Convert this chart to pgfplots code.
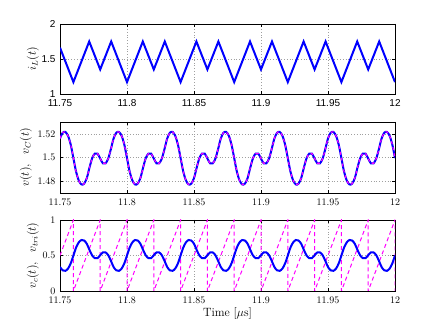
\documentclass[border=0pt]{standalone}
\usepackage{fontspec}
\setsansfont{Liberation Sans}
\usepackage{pgfplots}
\usepackage{pgfplotstable}
\pgfplotsset{compat=1.18}
\definecolor{mblue}{rgb}{0,0,1}
\definecolor{mmag}{rgb}{1,0,1}

\pgfplotstableread{
t v vc
11.750 1.5161 0.338
11.752 1.5209 0.291
11.754 1.5216 0.284
11.756 1.5183 0.316
11.758 1.5109 0.389
11.760 1.4995 0.500
11.762 1.4880 0.612
11.764 1.4806 0.685
11.766 1.4772 0.718
11.768 1.4779 0.711
11.770 1.4826 0.665
11.772 1.4914 0.579
11.774 1.4994 0.501
11.776 1.5033 0.463
11.778 1.5033 0.463
11.780 1.4991 0.504
11.782 1.4951 0.543
11.784 1.4951 0.543
11.786 1.4991 0.504
11.788 1.5072 0.425
11.790 1.5161 0.338
11.792 1.5209 0.291
11.794 1.5216 0.284
11.796 1.5183 0.316
11.798 1.5109 0.389
11.800 1.4995 0.500
11.802 1.4880 0.612
11.804 1.4806 0.685
11.806 1.4772 0.718
11.808 1.4779 0.711
11.810 1.4826 0.665
11.812 1.4914 0.579
11.814 1.4994 0.501
11.816 1.5033 0.463
11.818 1.5033 0.463
11.820 1.4991 0.504
11.822 1.4951 0.543
11.824 1.4951 0.543
11.826 1.4991 0.504
11.828 1.5072 0.425
11.830 1.5161 0.338
11.832 1.5209 0.291
11.834 1.5216 0.284
11.836 1.5183 0.316
11.838 1.5109 0.389
11.840 1.4995 0.500
11.842 1.4880 0.612
11.844 1.4806 0.685
11.846 1.4772 0.718
11.848 1.4779 0.711
11.850 1.4826 0.665
11.852 1.4914 0.579
11.854 1.4994 0.501
11.856 1.5033 0.463
11.858 1.5033 0.463
11.860 1.4991 0.504
11.862 1.4951 0.543
11.864 1.4951 0.543
11.866 1.4991 0.504
11.868 1.5072 0.425
11.870 1.5161 0.338
11.872 1.5209 0.291
11.874 1.5216 0.284
11.876 1.5183 0.316
11.878 1.5109 0.389
11.880 1.4995 0.500
11.882 1.4880 0.612
11.884 1.4806 0.685
11.886 1.4772 0.718
11.888 1.4779 0.711
11.890 1.4826 0.665
11.892 1.4914 0.579
11.894 1.4994 0.501
11.896 1.5033 0.463
11.898 1.5033 0.463
11.900 1.4991 0.504
11.902 1.4951 0.543
11.904 1.4951 0.543
11.906 1.4991 0.504
11.908 1.5072 0.425
11.910 1.5161 0.338
11.912 1.5209 0.291
11.914 1.5216 0.284
11.916 1.5183 0.316
11.918 1.5109 0.389
11.920 1.4995 0.500
11.922 1.4880 0.612
11.924 1.4806 0.685
11.926 1.4772 0.718
11.928 1.4779 0.711
11.930 1.4826 0.665
11.932 1.4914 0.579
11.934 1.4994 0.501
11.936 1.5033 0.463
11.938 1.5033 0.463
11.940 1.4991 0.504
11.942 1.4951 0.543
11.944 1.4951 0.543
11.946 1.4991 0.504
11.948 1.5072 0.425
11.950 1.5161 0.338
11.952 1.5209 0.291
11.954 1.5216 0.284
11.956 1.5183 0.316
11.958 1.5109 0.389
11.960 1.4995 0.500
11.962 1.4880 0.612
11.964 1.4806 0.685
11.966 1.4772 0.718
11.968 1.4779 0.711
11.970 1.4826 0.665
11.972 1.4914 0.579
11.974 1.4994 0.501
11.976 1.5033 0.463
11.978 1.5033 0.463
11.980 1.4991 0.504
11.982 1.4951 0.543
11.984 1.4951 0.543
11.986 1.4991 0.504
11.988 1.5072 0.425
11.990 1.5161 0.338
11.992 1.5209 0.291
11.994 1.5216 0.284
11.996 1.5183 0.316
11.998 1.5109 0.389
12.000 1.4995 0.500
}\vdata

\begin{document}
\begin{tikzpicture}
\useasboundingbox (0,0) rectangle (436pt,328pt);
\pgfplotsset{
  panel/.style={
    scale only axis, width=335pt, anchor=south west,
    xmin=11.75, xmax=12,
    xtick={11.75,11.8,11.85,11.9,11.95,12},
    xticklabels={11.75,11.8,11.85,11.9,11.95,12},
    grid=major,
    major grid style={gray!75, line width=0.4pt, dash pattern=on 0.6pt off 2.2pt},
    axis line style={line width=0.5pt},
    tick style={black, line width=0.4pt},
    major tick length=3pt,
    tick align=inside,
    xticklabel style={yshift=-2pt},
    yticklabel style={xshift=-1pt},
    label style={font=\large},
  },
}
% top panel
\begin{axis}[panel, at={(60pt,234pt)}, height=70pt,
  ymin=1, ymax=2, ytick={1,1.5,2}, yticklabels={1,1.5,2},
  ticklabel style={font=\sffamily},
  ylabel={$i_L(t)$},
  ylabel style={at={(axis description cs:-0.081,0.5)}, anchor=center},
]
\addplot[mblue, line width=2pt] coordinates {
(11.75,1.662) (11.76,1.17) (11.7718,1.75) (11.78,1.35) (11.7882,1.75)
(11.80,1.17) (11.8118,1.75) (11.82,1.35) (11.8282,1.75)
(11.84,1.17) (11.8518,1.75) (11.86,1.35) (11.8682,1.75)
(11.88,1.17) (11.8918,1.75) (11.90,1.35) (11.9082,1.75)
(11.92,1.17) (11.9318,1.75) (11.94,1.35) (11.9482,1.75)
(11.96,1.17) (11.9718,1.75) (11.98,1.35) (11.9882,1.75)
(12.00,1.17)};
\end{axis}
% middle panel
\begin{axis}[panel, at={(60pt,135pt)}, height=71pt,
  ymin=1.47, ymax=1.53, ytick={1.48,1.5,1.52}, yticklabels={1.48,1.5,1.52},
  ylabel={$v(t),\ \ v_C(t)$},
  ylabel style={at={(axis description cs:-0.102,0.5)}, anchor=center},
]
\addplot[mblue, line width=2pt, smooth] table[x=t, y=v] {\vdata};
\addplot[mmag, line width=1.1pt, smooth, dash pattern=on 3pt off 3pt] table[x=t, y=v] {\vdata};
\end{axis}
% bottom panel
\begin{axis}[panel, at={(60pt,37pt)}, height=71pt,
  ymin=0, ymax=1, ytick={0,0.5,1}, yticklabels={0,0.5,1},
  ylabel={$v_c(t),\ \ v_{tri}(t)$},
  ylabel style={at={(axis description cs:-0.081,0.5)}, anchor=center},
  xlabel={Time [$\mu$s]},
  xlabel style={yshift=3pt},
]
\addplot[mmag, line width=1pt, dash pattern=on 4pt off 3pt] coordinates {
(11.75,0.5) (11.76,1) (11.76,0) (11.78,1) (11.78,0) (11.80,1) (11.80,0)
(11.82,1) (11.82,0) (11.84,1) (11.84,0) (11.86,1) (11.86,0)
(11.88,1) (11.88,0) (11.90,1) (11.90,0) (11.92,1) (11.92,0)
(11.94,1) (11.94,0) (11.96,1) (11.96,0) (11.98,1) (11.98,0)
(12.00,1) (12.00,0)};
\addplot[mblue, line width=2pt, smooth] table[x=t, y=vc] {\vdata};
\end{axis}
\end{tikzpicture}
\end{document}
